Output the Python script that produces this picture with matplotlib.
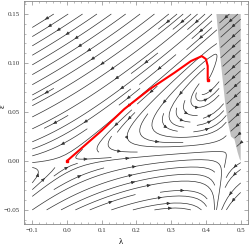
import numpy as np
import matplotlib; matplotlib.use("Agg"); import matplotlib.pyplot as plt
from matplotlib.path import Path

# red trajectory (lambda, eps)
red_lam = [0.0, 0.05, 0.10, 0.165, 0.237, 0.309, 0.357, 0.388, 0.400, 0.405, 0.405]
red_eps = [0.0, 0.0155, 0.031, 0.053, 0.073, 0.090, 0.102, 0.107, 0.104, 0.097, 0.083]
# shaded region boundary
gray_lam = [0.430, 0.443, 0.455, 0.463, 0.472, 0.482, 0.491, 0.497, 0.500, 0.500]
gray_eps = [0.150, 0.100, 0.060, 0.040, 0.025, 0.022, 0.009, 0.002, 0.000, 0.150]
xticks = [-0.1, 0.0, 0.1, 0.2, 0.3, 0.4, 0.5]
xlabels = ["\u22120.1", "0.0", "0.1", "0.2", "0.3", "0.4", "0.5"]
yticks = [-0.05, 0.0, 0.05, 0.10, 0.15]
ylabels = ["\u22120.05", "0.00", "0.05", "0.10", "0.15"]

# flow: saddle at origin, spiral source at end of red curve, saddle on the right
AS, P1, Q0, Q1, Q2 = 0.465, -1.232, 0.681, 2.0, 1.5
def field(lam, eps):
    x, y = lam, 3 * eps
    b = (y - 0.078 * x) / 0.842; a = x - b
    da = a * (AS - a + P1 * b)
    db = b * (-Q0 + Q1 * a + Q2 * b)
    dx = da + db; dy = 0.078 * da + 0.92 * db
    return dx, dy / 3

L, E = np.meshgrid(np.linspace(-0.1, 0.5, 240), np.linspace(-0.05, 0.15, 240))
U, V = field(L, E)
poly = Path(np.column_stack([gray_lam, gray_eps]))
inside = poly.contains_points(np.column_stack([L.ravel(), E.ravel()])).reshape(L.shape)

fig = plt.figure(figsize=(2.49, 2.45), dpi=100)
ax = fig.add_axes([0.096, 0.086, 0.9, 0.91])
ax.fill(gray_lam, gray_eps, color="#c0c0c0", lw=0, zorder=0)
sty = dict(color="#333333", linewidth=0.5, arrowsize=0.45, zorder=1)
ax.streamplot(L, E, np.ma.masked_where(inside, U), np.ma.masked_where(inside, V), density=1.0, **sty)
Ug = np.ma.masked_where(~inside, -np.ones_like(L)); Vg = np.ma.masked_where(~inside, -0.32 * np.ones_like(L))
ax.streamplot(L, E, Ug, Vg, density=[2.5, 1.3], minlength=0.02, **sty)
ax.plot(red_lam, red_eps, color="red", lw=1.5, zorder=3, solid_capstyle="butt")
ax.plot([red_lam[0], red_lam[-1]], [red_eps[0], red_eps[-1]], "s", color="red", ms=2, zorder=4)
ax.set_xlim(-0.124, 0.521); ax.set_ylim(-0.0643, 0.1633)
ax.set_xticks(xticks); ax.set_xticklabels(xlabels)
ax.set_yticks(yticks); ax.set_yticklabels(ylabels)
ax.set_xticks(np.arange(-0.12, 0.521, 0.02), minor=True)
ax.set_yticks(np.arange(-0.06, 0.161, 0.01), minor=True)
ax.tick_params(which="both", direction="in", top=True, right=True, labelsize=5, colors="#888888", labelcolor="#333333", pad=3)
ax.tick_params(which="major", length=3, width=0.5); ax.tick_params(which="minor", length=1.5, width=0.4)
for s in ax.spines.values(): s.set_color("#888888"); s.set_linewidth(0.6)
for t in ax.get_xticklabels() + ax.get_yticklabels(): t.set_family("Liberation Serif")
ax.set_xlabel("\u03bb", fontsize=6, family="Liberation Serif")
ax.set_ylabel("\u03b5", fontsize=6, family="Liberation Serif")
ax.xaxis.set_label_coords(0.43, -0.065); ax.yaxis.set_label_coords(-0.075, 0.53)
fig.savefig("out.png", dpi=100)
